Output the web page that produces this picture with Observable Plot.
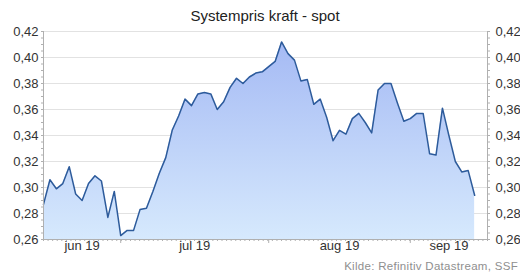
<!DOCTYPE html>
<html><head><meta charset="utf-8">
<script src="https://cdn.jsdelivr.net/npm/d3@7"></script>
<script src="https://cdn.jsdelivr.net/npm/@observablehq/plot@0.6"></script>
<style>
body{margin:0;background:#fff;font-family:"Liberation Sans",Arial,sans-serif}
#wrap{position:relative;width:520px;height:273px;overflow:hidden;background:#fff}
#chart{position:absolute;left:0;top:0}
#title{position:absolute;left:0;width:530px;top:8px;line-height:15px;text-align:center;font-size:15px;color:#222}
#cap{position:absolute;right:2px;top:260px;line-height:12px;font-size:11.5px;letter-spacing:0.3px;color:#8f8f8f;white-space:nowrap}
</style></head><body>
<div id="wrap"><div id="chart"></div><div id="title">Systempris kraft - spot</div><div id="cap">Kilde: Refinitiv Datastream, SSF</div></div>
<script>
// Business-day series, 12 Jun 2019 – 13 Sep 2019 (axis runs to 17 Sep 2019)
const startDate = "2019-06-12";
const axisEndDate = "2019-09-17";
const prices = [
  0.287, 0.306, 0.299, 0.303, 0.316, 0.295, 0.290, 0.303, 0.309, 0.305,
  0.277, 0.297, 0.263, 0.267, 0.267, 0.283, 0.284, 0.297, 0.311, 0.323,
  0.344, 0.355, 0.368, 0.363, 0.372, 0.373, 0.372, 0.360, 0.366, 0.377,
  0.384, 0.380, 0.385, 0.388, 0.389, 0.393, 0.397, 0.412, 0.403, 0.398,
  0.382, 0.383, 0.364, 0.368, 0.354, 0.336, 0.344, 0.341, 0.353, 0.357,
  0.350, 0.342, 0.375, 0.380, 0.380, 0.365, 0.351, 0.353, 0.357, 0.357,
  0.326, 0.325, 0.361, 0.340, 0.320, 0.312, 0.313, 0.294
];
const yTicks = [0.26, 0.28, 0.30, 0.32, 0.34, 0.36, 0.38, 0.40, 0.42];
const monthLabels = ["jun 19", "jul 19", "aug 19", "sep 19"];

const start = new Date(startDate + "T00:00:00Z");
const end = new Date(axisEndDate + "T00:00:00Z");
const calDays = d3.utcDay.range(start, d3.utcDay.offset(end, 1));
const slots = calDays.filter(d => d.getUTCDay() !== 0 && d.getUTCDay() !== 6);
const lastIdx = slots.length - 1;
const data = prices.map((v, i) => ({i, date: slots[i], v}));

// month boundaries = last business day of each month
const boundaries = [];
for (let i = 0; i < lastIdx; i++) {
  if (slots[i].getUTCMonth() !== slots[i + 1].getUTCMonth()) boundaries.push(i);
}
const edges = [0, ...boundaries, lastIdx];
const monthData = monthLabels.map((label, k) => ({c: (edges[k] + edges[k + 1]) / 2, label}));
const minorX = calDays.map((d, k) => k * lastIdx / (calDays.length - 1));
const minorY = d3.range(0, 33).map(k => 0.26 + k * 0.005);
const fmt = d => d.toFixed(2).replace(".", ",");
const axisColor = "#b0b0b0";

const chart = Plot.plot({
  width: 520, height: 273,
  marginTop: 31, marginBottom: 34, marginLeft: 43, marginRight: 33,
  x: {domain: [0, lastIdx], label: null},
  y: {domain: [0.26, 0.42], label: null},
  style: {fontFamily: "'Liberation Sans', Arial, sans-serif", fontSize: "13px", color: "#333", background: "transparent"},
  marks: [
    Plot.gridY(yTicks.filter(d => d > 0.26), {stroke: "#e2e2e2", strokeOpacity: 1}),
    Plot.areaY(data, {x: "i", y1: 0.26, y2: "v", fill: "url(#pgrad)"}),
    Plot.lineY(data, {x: "i", y: "v", stroke: "#2d5b9b", strokeWidth: 1.5}),
    Plot.ruleX([0, lastIdx], {stroke: axisColor}),
    Plot.ruleY([0.26], {stroke: axisColor}),
    Plot.axisY(minorY, {anchor: "left", tickSize: 2, text: null, label: null, stroke: axisColor}),
    Plot.axisY(minorY, {anchor: "right", tickSize: 2, text: null, label: null, stroke: axisColor}),
    Plot.axisY(yTicks, {anchor: "left", tickSize: 0, tickPadding: 5, tickFormat: fmt, label: null, fill: "#333"}),
    Plot.axisY(yTicks, {anchor: "right", tickSize: 0, tickPadding: 8, tickFormat: fmt, label: null, fill: "#333"}),
    Plot.axisX(minorX, {anchor: "bottom", tickSize: 2, text: null, label: null, stroke: axisColor}),
    Plot.axisX(boundaries, {anchor: "bottom", tickSize: 4, text: null, label: null, stroke: axisColor}),
    Plot.text(monthData, {x: "c", frameAnchor: "bottom", dy: 10, text: "label", fill: "#333", fontSize: 13})
  ]
});

const svg = d3.select(chart);
const grad = svg.insert("defs", ":first-child").append("linearGradient")
  .attr("id", "pgrad").attr("x1", 0).attr("y1", 0).attr("x2", 0).attr("y2", 1);
grad.append("stop").attr("offset", "0%").attr("stop-color", "#a5baf4");
grad.append("stop").attr("offset", "100%").attr("stop-color", "#d6e9fd");

document.getElementById("chart").appendChild(chart);
</script>
</body></html>
